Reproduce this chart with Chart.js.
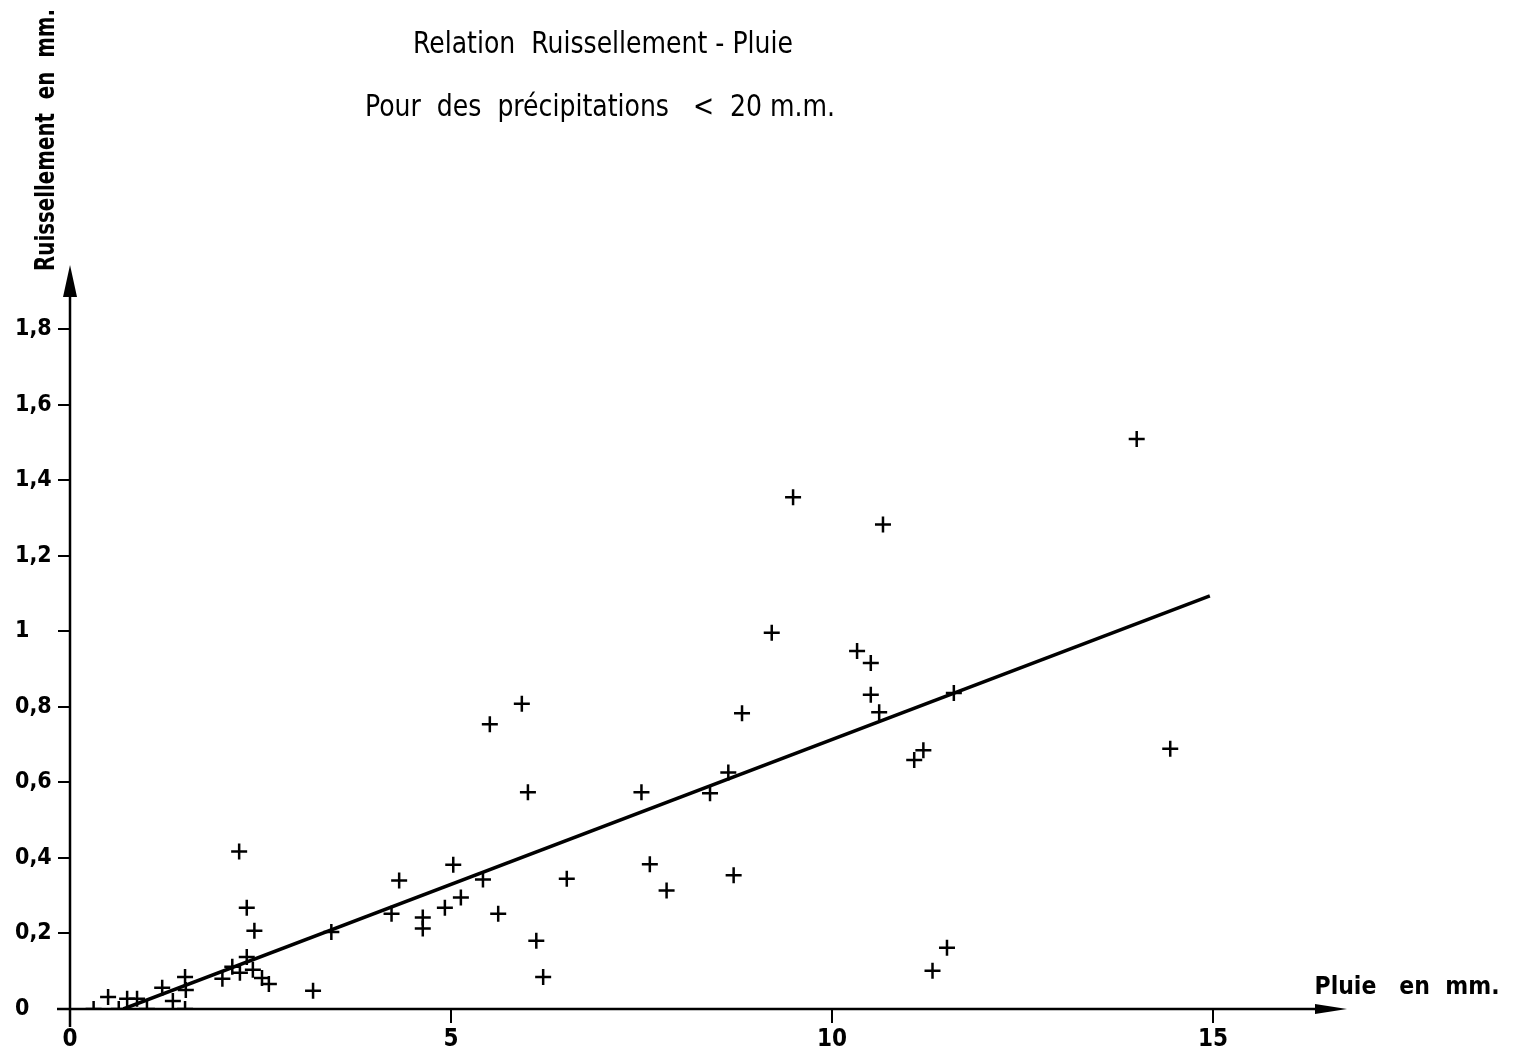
<!DOCTYPE html>
<html>
<head>
<meta charset="utf-8">
<style>
  html, body { margin: 0; padding: 0; background: #fff; }
  canvas { display: block; }
</style>
<script src="https://cdn.jsdelivr.net/npm/chart.js@4.4.1/dist/chart.umd.min.js"></script>
</head>
<body>
<canvas id="c" width="1521" height="1057"></canvas>
<script>
// Relation Ruissellement - Pluie, précipitations < 20 mm
// Values: rain (mm) vs runoff (mm).
const pluie = [
  0.31, 0.50, 0.64, 0.75, 0.88, 1.01, 1.21, 1.35, 1.51, 1.51,
  1.52, 2.00, 2.13, 2.23, 2.22, 2.32, 2.42, 2.32, 2.40, 2.52,
  2.61, 3.19, 3.43, 4.22, 4.32, 4.63, 4.63, 4.92, 5.03, 5.13,
  5.42, 5.51, 5.62, 5.93, 6.01, 6.12, 6.21, 6.52, 7.50, 7.61,
  7.83, 8.40, 8.64, 8.71, 8.82, 9.21, 9.49, 10.33, 10.51, 10.51,
  10.62, 10.67, 11.08, 11.20, 11.32, 11.51, 11.60, 14.00, 14.44
];
const ruissellement = [
  0.000, 0.032, 0.000, 0.027, 0.027, 0.000, 0.056, 0.021, 0.000, 0.085,
  0.050, 0.080, 0.112, 0.096, 0.417, 0.268, 0.207, 0.138, 0.104, 0.082,
  0.066, 0.048, 0.204, 0.252, 0.340, 0.242, 0.213, 0.268, 0.382, 0.295,
  0.343, 0.754, 0.252, 0.808, 0.574, 0.181, 0.085, 0.345, 0.574, 0.383,
  0.314, 0.571, 0.626, 0.354, 0.783, 0.996, 1.355, 0.948, 0.916, 0.832,
  0.786, 1.283, 0.659, 0.685, 0.101, 0.162, 0.837, 1.509, 0.689
];
// hand-drawn fit line, two ends
const droiteX = [0.70, 14.96];
const droiteY = [0.000, 1.094];

const xTicks = [0, 5, 10, 15];
const yTicks = [0, 0.2, 0.4, 0.6, 0.8, 1, 1.2, 1.4, 1.6, 1.8];
const yTickLabels = ["0", "0,2", "0,4", "0,6", "0,8", "1", "1,2", "1,4", "1,6", "1,8"];

const titre1 = "Relation  Ruissellement - Pluie";
const titre2 = "Pour  des  précipitations   <  20 m.m.";
const titreY = "Ruissellement  en  mm.";
const titreX = "Pluie   en  mm.";

const FONT = '"DejaVu Sans Condensed", "DejaVu Sans", sans-serif';

// draw text stretched to a given width (the lettering in the scan is narrow and tall)
function fitText(ctx, txt, cx, cy, width) {
  const w = ctx.measureText(txt).width;
  ctx.save();
  ctx.translate(cx, cy);
  ctx.scale(width / w, 1);
  ctx.textAlign = "center";
  ctx.fillText(txt, 0, 0);
  ctx.restore();
}

// axis lines with arrows + free-standing titles
const decor = {
  id: "decor",
  afterDraw(chart) {
    const ctx = chart.ctx;
    const xs = chart.scales.x, ys = chart.scales.y;
    const x0 = xs.getPixelForValue(0), y0 = ys.getPixelForValue(0);
    const xEnd = xs.getPixelForValue(xs.max), yEnd = ys.getPixelForValue(ys.max);
    ctx.save();
    ctx.strokeStyle = "#000";
    ctx.fillStyle = "#000";
    ctx.lineWidth = 2.5;
    ctx.beginPath();
    ctx.moveTo(x0 - 13, y0); ctx.lineTo(xEnd - 20, y0);
    ctx.moveTo(x0, y0 + 18); ctx.lineTo(x0, yEnd + 20);
    ctx.stroke();
    // x arrow
    ctx.beginPath();
    ctx.moveTo(xEnd, y0);
    ctx.lineTo(xEnd - 32, y0 - 5);
    ctx.lineTo(xEnd - 32, y0 + 5);
    ctx.closePath(); ctx.fill();
    // y arrow
    ctx.beginPath();
    ctx.moveTo(x0, yEnd);
    ctx.lineTo(x0 - 7, yEnd + 32);
    ctx.lineTo(x0 + 7, yEnd + 32);
    ctx.closePath(); ctx.fill();

    ctx.textBaseline = "middle";
    ctx.font = "30px " + FONT;
    fitText(ctx, titre1, 603, 45, 380);
    fitText(ctx, titre2, 600, 108, 470);

    ctx.font = "bold 24px " + FONT;
    fitText(ctx, titreX, 1407, 988, 185);

    ctx.font = "bold 27px " + FONT;
    ctx.translate(47, 140);
    ctx.rotate(-Math.PI / 2);
    fitText(ctx, titreY, 0, 0, 262);
    ctx.restore();
  }
};

new Chart(document.getElementById("c"), {
  type: "scatter",
  data: {
    datasets: [
      {
        label: "Observations",
        data: pluie.map((p, i) => ({ x: p, y: ruissellement[i] })),
        pointStyle: "cross",
        pointRadius: 8,
        pointBorderWidth: 2.5,
        borderColor: "#000",
        backgroundColor: "#000",
        showLine: false
      },
      {
        label: "Droite",
        data: droiteX.map((p, i) => ({ x: p, y: droiteY[i] })),
        showLine: true,
        pointRadius: 0,
        borderColor: "#000",
        borderWidth: 3.5
      }
    ]
  },
  options: {
    responsive: false,
    animation: false,
    layout: { padding: { left: 15, right: 174, top: 265, bottom: 0 } },
    plugins: { legend: { display: false }, title: { display: false }, tooltip: { enabled: false } },
    scales: {
      x: {
        type: "linear",
        min: 0, max: 16.76,
        afterFit: s => { s.height = 48; },
        afterBuildTicks: s => { s.ticks = xTicks.map(v => ({ value: v })); },
        border: { display: false },
        grid: { drawOnChartArea: false, drawTicks: true, tickLength: 14, color: "#000", lineWidth: 2 },
        ticks: {
          includeBounds: false, padding: 2, color: "#000", maxRotation: 0,
          font: { family: FONT, size: 24, weight: "bold" },
          callback: v => String(v)
        }
      },
      y: {
        type: "linear",
        min: 0, max: 1.97,
        afterFit: s => { s.width = 55; },
        afterBuildTicks: s => { s.ticks = yTicks.map(v => ({ value: v })); },
        border: { display: false },
        grid: { drawOnChartArea: false, drawTicks: true, tickLength: 12, color: "#000", lineWidth: 2 },
        ticks: {
          includeBounds: false, crossAlign: "far", color: "#000",
          font: { family: FONT, size: 23, weight: "bold" },
          callback: v => yTickLabels[yTicks.findIndex(t => Math.abs(t - v) < 1e-6)]
        }
      }
    }
  },
  plugins: [decor]
});
</script>
</body>
</html>
